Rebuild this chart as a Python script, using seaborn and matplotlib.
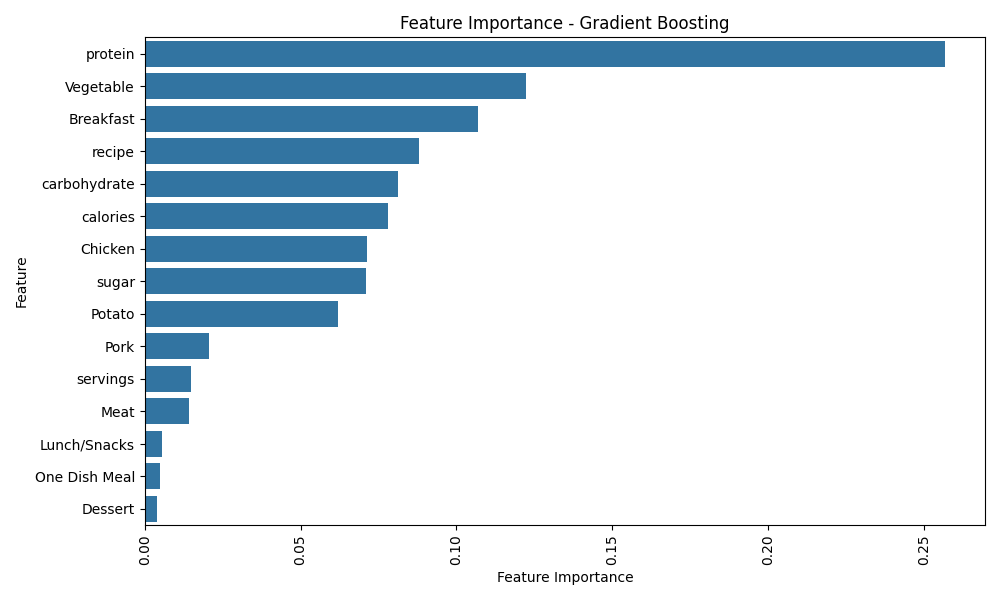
import matplotlib
matplotlib.use("Agg")
import matplotlib.pyplot as plt
import seaborn as sns
import pandas as pd

features = ["protein", "Vegetable", "Breakfast", "recipe", "carbohydrate",
            "calories", "Chicken", "sugar", "Potato", "Pork", "servings",
            "Meat", "Lunch/Snacks", "One Dish Meal", "Dessert"]
importance = [0.2567, 0.1223, 0.1069, 0.0879, 0.0812,
              0.0780, 0.0712, 0.0709, 0.0619, 0.0205, 0.0148,
              0.0141, 0.0055, 0.0048, 0.0039]

df = pd.DataFrame({"Feature": features, "Feature Importance": importance})

plt.figure(figsize=(10, 6))
sns.barplot(data=df, x="Feature Importance", y="Feature")
plt.title("Feature Importance - Gradient Boosting")
plt.xticks(rotation=90)
plt.tight_layout()
plt.savefig("out.png", dpi=100)
